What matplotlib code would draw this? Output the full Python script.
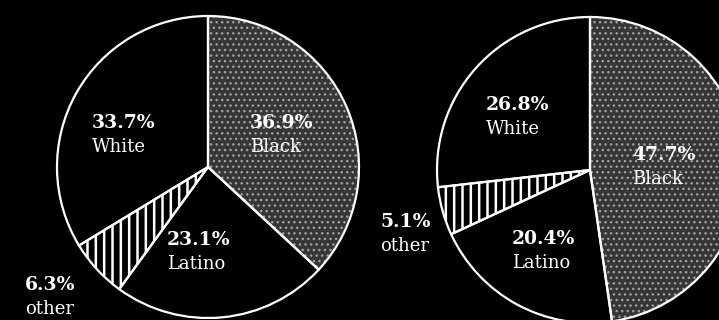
import matplotlib
matplotlib.use("Agg")
import matplotlib.pyplot as plt

categories = ["Black", "Latino", "other", "White"]
left_values = [36.9, 23.1, 6.3, 33.7]
right_values = [47.7, 20.4, 5.1, 26.8]
left_labels = ["36.9%", "23.1%", "6.3%", "33.7%"]
right_labels = ["47.7%", "20.4%", "5.1%", "26.8%"]

W, H = 719, 320
plt.rcParams["hatch.linewidth"] = 1.0
fig = plt.figure(figsize=(W / 100, H / 100), dpi=100, facecolor="black")
ax = fig.add_axes([0, 0, 1, 1])
ax.set_facecolor("black")

fills = ["#363636", "black", "black", "black"]
hatch_col = ["#a0a0a0", "white", "white", "white"]
hatches = ["...", None, "||", None]
hatch_lw = [1.0, 1.0, 1.8, 1.0]


def draw_pie(values, cx, cy, r):
    wedges, _ = ax.pie(values, center=(cx, cy), radius=r, startangle=90,
                       counterclock=False, colors=fills, frame=True,
                       wedgeprops=dict(linewidth=0))
    for w, h, hc, hl in zip(wedges, hatches, hatch_col, hatch_lw):
        if h:
            w.set_hatch(h)
            w.set_edgecolor(hc)
            w.set_linewidth(0)
            if hasattr(w, "set_hatch_linewidth"):
                w.set_hatch_linewidth(hl)
            else:
                w._hatch_linewidth = hl
    ax.pie(values, center=(cx, cy), radius=r, startangle=90,
           counterclock=False, frame=True,
           wedgeprops=dict(facecolor="none", edgecolor="white", linewidth=1.6))
    return wedges


draw_pie(left_values, 208, H - 167, 151)
draw_pie(right_values, 590, H - 170, 153)
ax.set_xlim(0, W)
ax.set_ylim(0, H)
ax.set_aspect("equal")
ax.axis("off")

serif = "DejaVu Serif"


def label(x, y, pct, name):
    ax.text(x, H - y, pct, color="white", fontsize=13.5, fontweight="bold",
            family=serif, ha="left", va="center")
    ax.text(x, H - y - 24, name, color="white", fontsize=13, family=serif,
            ha="left", va="center")


left_pos = [(250, 123), (167, 240), (25, 285), (92, 123)]
right_pos = [(632, 155), (512, 239), (380, 222), (486, 105)]
for (x, y), p, c in zip(left_pos, left_labels, categories):
    label(x, y, p, c)
for (x, y), p, c in zip(right_pos, right_labels, categories):
    label(x, y, p, c)

fig.savefig("out.png", dpi=100, facecolor="black")
